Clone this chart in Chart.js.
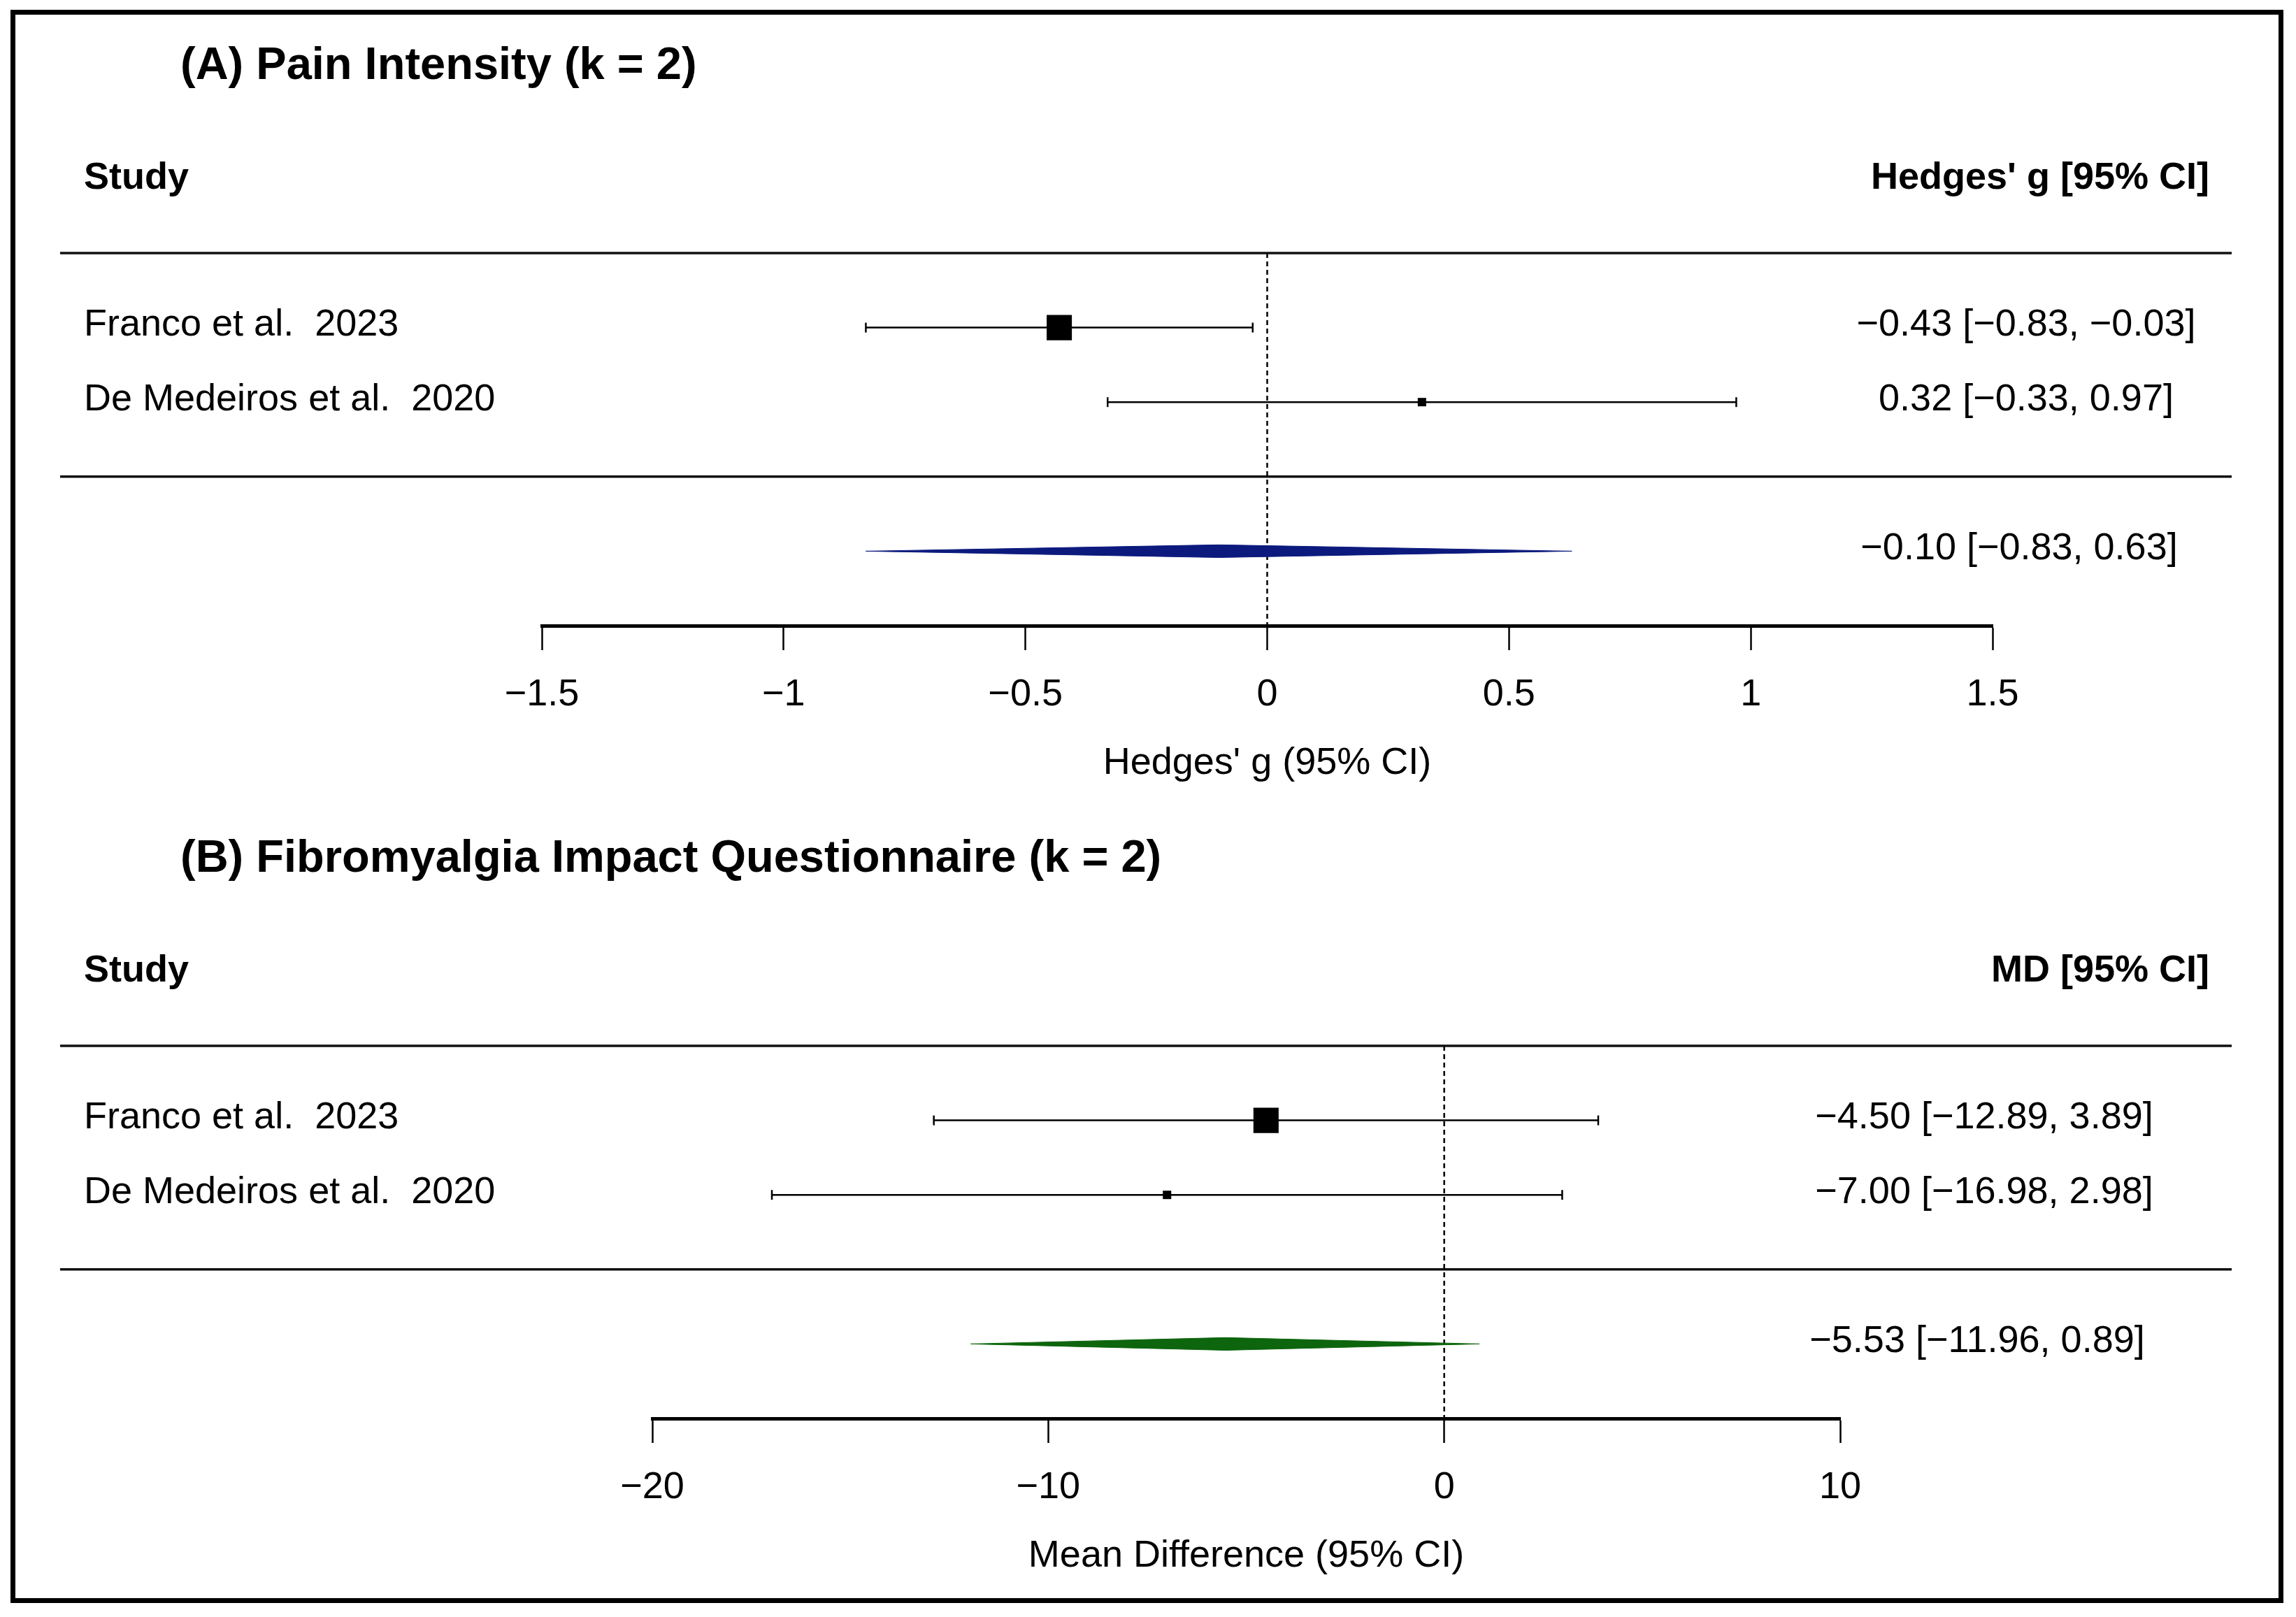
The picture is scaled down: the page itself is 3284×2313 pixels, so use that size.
<!DOCTYPE html>
<html>
<head>
<meta charset="utf-8">
<script src="https://cdn.jsdelivr.net/npm/chart.js@4.4.1/dist/chart.umd.min.js"></script>
<style>
  html, body { margin: 0; padding: 0; background: #fff; }
  #page { position: relative; width: 3284px; height: 2313px; overflow: hidden; background: #fff; }
  canvas { position: absolute; left: 0; }
  #cnvPain { top: 0; }
  #cnvFiq { top: 1134px; }
  #frame { position: absolute; left: 15px; top: 14px; width: 3251px; height: 2279px; border: 7px solid #000; box-sizing: border-box; pointer-events: none; }
</style>
</head>
<body>
<div id="page">
  <canvas id="cnvPain" width="3284" height="1134"></canvas>
  <canvas id="cnvFiq" width="3284" height="1179"></canvas>
  <div id="frame"></div>
</div>
<script>
  let studies = ['Franco et al.  2023', 'De Medeiros et al.  2020']

  // (A) pain intensity, Hedges' g
  let painEst = [-0.43, 0.32]
  let painLow = [-0.83, -0.33]
  let painHigh = [-0.03, 0.97]
  let painPooled = [-0.10, -0.83, 0.63] // estimate, lower, upper
  let painTicks = [-1.5, -1, -0.5, 0, 0.5, 1, 1.5]

  // (B) FIQ, mean difference
  let fiqEst = [-4.50, -7.00]
  let fiqLow = [-12.89, -16.98]
  let fiqHigh = [3.89, 2.98]
  let fiqPooled = [-5.53, -11.96, 0.89]
  let fiqTicks = [-20, -10, 0, 10]

  const FONT = '"Liberation Sans", Arial, sans-serif'
  Chart.defaults.font.family = FONT
  Chart.defaults.color = '#000'

  function minus(s) {
    return String(s).replace(/-/g, '\u2212')
  }

  function fmt(v) {
    return minus(v.toFixed(2))
  }

  function ciText(est, lo, hi) {
    return fmt(est) + ' [' + fmt(lo) + ', ' + fmt(hi) + ']'
  }

  let forestText = {
    id: 'forestText',
    beforeDatasetsDraw(chart, args, opts) {
      let ctx = chart.ctx
      let y = chart.scales.y
      ctx.save()
      ctx.strokeStyle = '#111'
      ctx.lineWidth = 3.5
      opts.sepRows.forEach((r) => {
        let py = y.getPixelForValue(r)
        ctx.beginPath()
        ctx.moveTo(86, py)
        ctx.lineTo(3192, py)
        ctx.stroke()
      })
      ctx.restore()
    },
    afterDraw(chart, args, opts) {
      let ctx = chart.ctx
      let y = chart.scales.y
      ctx.save()
      ctx.fillStyle = '#000'
      ctx.textBaseline = 'middle'

      ctx.font = 'bold 65px ' + FONT
      ctx.textAlign = 'left'
      ctx.fillText(opts.title, 258, y.getPixelForValue(-2.5))

      ctx.font = 'bold 54px ' + FONT
      ctx.fillText('Study', 120, y.getPixelForValue(-1))
      ctx.textAlign = 'right'
      ctx.fillText(opts.header, 3160, y.getPixelForValue(-1))

      ctx.font = '54px ' + FONT
      opts.labels.forEach((lab, i) => {
        let py = y.getPixelForValue(i + 1) - 3
        ctx.textAlign = 'left'
        ctx.fillText(lab, 120, py)
        ctx.textAlign = 'center'
        ctx.fillText(opts.annot[i], opts.annotX, py)
      })
      ctx.textAlign = 'center'
      ctx.fillText(opts.pooledAnnot, opts.annotX - 10, y.getPixelForValue(opts.pooledRow) - 3)
      ctx.restore()
    },
  }

  function drawForest(canvasId, p) {
    let n = p.est.length
    let pooledRow = n + 2
    let axisRow = n + 3
    let dh = 0.085 // diamond half height in rows

    let datasets = []
    p.est.forEach((e, i) => {
      datasets.push({
        type: 'line',
        order: 2,
        data: [{ x: p.low[i], y: i + 1 }, { x: p.high[i], y: i + 1 }],
        borderColor: '#000',
        borderWidth: 2.5,
        pointStyle: 'line',
        pointRotation: 90,
        pointRadius: 7,
        pointBorderWidth: 2.5,
        pointBorderColor: '#000',
      })
    })
    datasets.push({
      type: 'scatter',
      order: 0,
      data: p.est.map((e, i) => ({ x: e, y: i + 1 })),
      pointStyle: 'rect',
      pointRadius: [25.5, 8.5],
      pointBackgroundColor: '#000',
      pointBorderColor: '#000',
      pointBorderWidth: 0,
    })
    let [pe, pl, ph] = p.pooled
    datasets.push({
      type: 'line',
      order: 1,
      data: [
        { x: pl, y: pooledRow },
        { x: pe, y: pooledRow - dh },
        { x: ph, y: pooledRow },
        { x: pe, y: pooledRow + dh },
        { x: pl, y: pooledRow },
      ],
      fill: 'shape',
      backgroundColor: p.color,
      borderColor: p.color,
      borderWidth: 1,
      pointRadius: 0,
      tension: 0,
    })
    datasets.push({
      type: 'line',
      order: 3,
      data: [{ x: 0, y: 0 }, { x: 0, y: axisRow }],
      borderColor: '#000',
      borderWidth: 2.5,
      borderDash: [7, 5],
      pointRadius: 0,
    })

    let canvas = document.getElementById(canvasId)
    let ctx = canvas.getContext('2d')
    return new Chart(ctx, {
      type: 'scatter',
      data: { datasets: datasets },
      options: {
        responsive: false,
        animation: false,
        events: [],
        layout: {
          padding: {
            top: 362,
            bottom: canvas.height - 895 - 230,
            left: p.left,
            right: 3284 - p.right,
          },
        },
        plugins: {
          legend: { display: false },
          tooltip: { enabled: false },
          forestText: {
            title: p.title,
            header: p.header,
            labels: studies,
            annot: p.est.map((e, i) => ciText(e, p.low[i], p.high[i])),
            pooledAnnot: ciText(pe, pl, ph),
            pooledRow: pooledRow,
            sepRows: [0, n + 1],
            annotX: p.annotX,
          },
        },
        scales: {
          x: {
            type: 'linear',
            min: p.ticks[0],
            max: p.ticks[p.ticks.length - 1],
            afterBuildTicks: (s) => {
              s.ticks = p.ticks.map((v) => ({ value: v }))
            },
            afterFit: (s) => {
              s.height = 230
            },
            grid: {
              drawOnChartArea: false,
              drawTicks: true,
              tickLength: 35,
              tickWidth: 2.5,
              tickColor: '#000',
            },
            border: { display: true, width: 5, color: '#000' },
            ticks: {
              color: '#000',
              padding: 32,
              autoSkip: false,
              maxRotation: 0,
              font: { size: 54 },
              callback: (v) => minus(v),
            },
            title: {
              display: true,
              text: p.axisTitle,
              color: '#000',
              font: { size: 54 },
              padding: { top: 0, bottom: 0 },
            },
          },
          y: {
            type: 'linear',
            display: false,
            reverse: true,
            min: 0,
            max: axisRow,
          },
        },
      },
      plugins: [forestText],
    })
  }

  drawForest('cnvPain', {
    title: '(A) Pain Intensity (k = 2)',
    header: "Hedges' g [95% CI]",
    axisTitle: "Hedges' g (95% CI)",
    est: painEst,
    low: painLow,
    high: painHigh,
    pooled: painPooled,
    ticks: painTicks,
    color: '#0c1a7d',
    left: 775,
    right: 2850,
    annotX: 2898,
  })

  drawForest('cnvFiq', {
    title: '(B) Fibromyalgia Impact Questionnaire (k = 2)',
    header: 'MD [95% CI]',
    axisTitle: 'Mean Difference (95% CI)',
    est: fiqEst,
    low: fiqLow,
    high: fiqHigh,
    pooled: fiqPooled,
    ticks: fiqTicks,
    color: '#0d650d',
    left: 933,
    right: 2632,
    annotX: 2838,
  })
</script>
</body>
</html>
